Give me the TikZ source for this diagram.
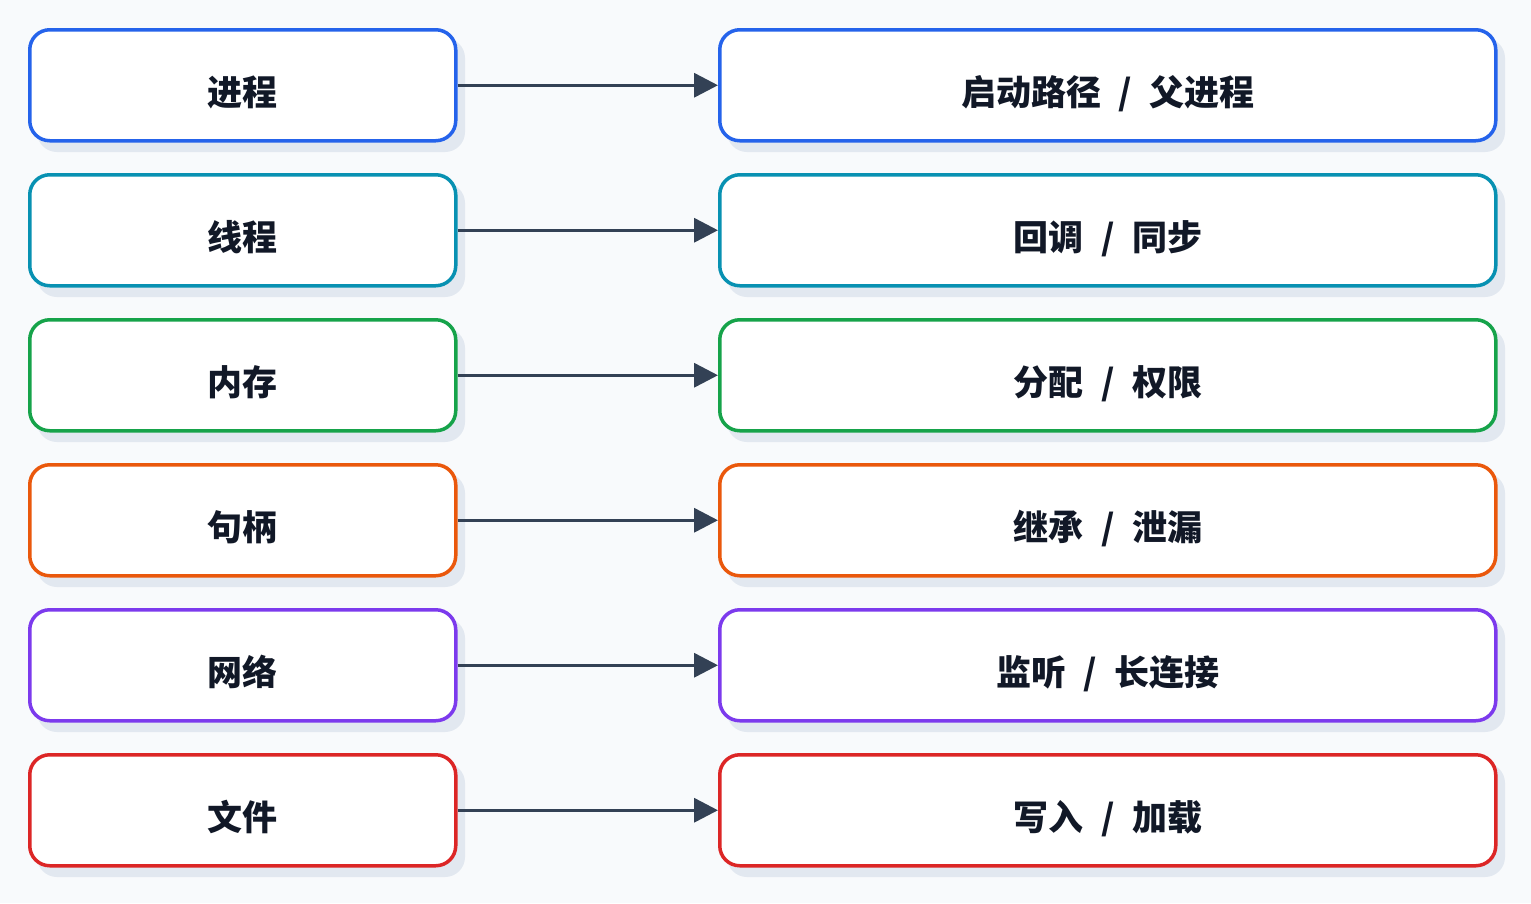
\documentclass[tikz,border=0pt]{standalone}
\usepackage{fontspec}
\setmainfont{Noto Sans CJK SC}
\usetikzlibrary{positioning,arrows.meta}
\definecolor{bgc}{HTML}{F8FAFC}
\definecolor{shc}{HTML}{E2E8F0}
\definecolor{arc}{HTML}{334155}
\definecolor{txc}{HTML}{111827}
\definecolor{c1}{HTML}{2563EB}
\definecolor{c2}{HTML}{0891B2}
\definecolor{c3}{HTML}{16A34A}
\definecolor{c4}{HTML}{EA580C}
\definecolor{c5}{HTML}{7C3AED}
\definecolor{c6}{HTML}{DC2626}
\newcommand{\sep}{\enspace/\enspace}
\tikzset{
  box/.style={draw=#1, line width=3.5pt, rounded corners=20pt, fill=white,
    minimum height=111pt, text=txc, font=\fontsize{35}{40}\selectfont\bfseries,
    text height=40pt, text depth=0pt, inner sep=0pt, anchor=north west},
  shade/.style={fill=shc, rounded corners=20pt, draw=none},
  link/.style={draw=arc, line width=3.5pt, -{Triangle[length=24pt,width=24pt]}}
}
\begin{document}
\begin{tikzpicture}[x=1pt,y=-1pt]
  \fill[bgc] (0,0) rectangle (1531,903);
  \foreach \i/\l/\r in {1/进程/{启动路径\sep 父进程}, 2/线程/{回调\sep 同步}, 3/内存/{分配\sep 权限},
      4/句柄/{继承\sep 泄漏}, 5/网络/{监听\sep 长连接}, 6/文件/{写入\sep 加载}} {
    \pgfmathsetmacro{\top}{28+145*(\i-1)}
    % shadows
    \fill[shade] (37,\top+10) rectangle (465,\top+124);
    \fill[shade] (727,\top+10) rectangle (1505,\top+124);
    % boxes
    \node[box=c\i, minimum width=426pt] (k\i) at (28,\top) {\l};
    \node[box=c\i, minimum width=776pt] (v\i) at (718,\top) {\r};
    \draw[link] (k\i) -- (v\i);
  }
\end{tikzpicture}
\end{document}
